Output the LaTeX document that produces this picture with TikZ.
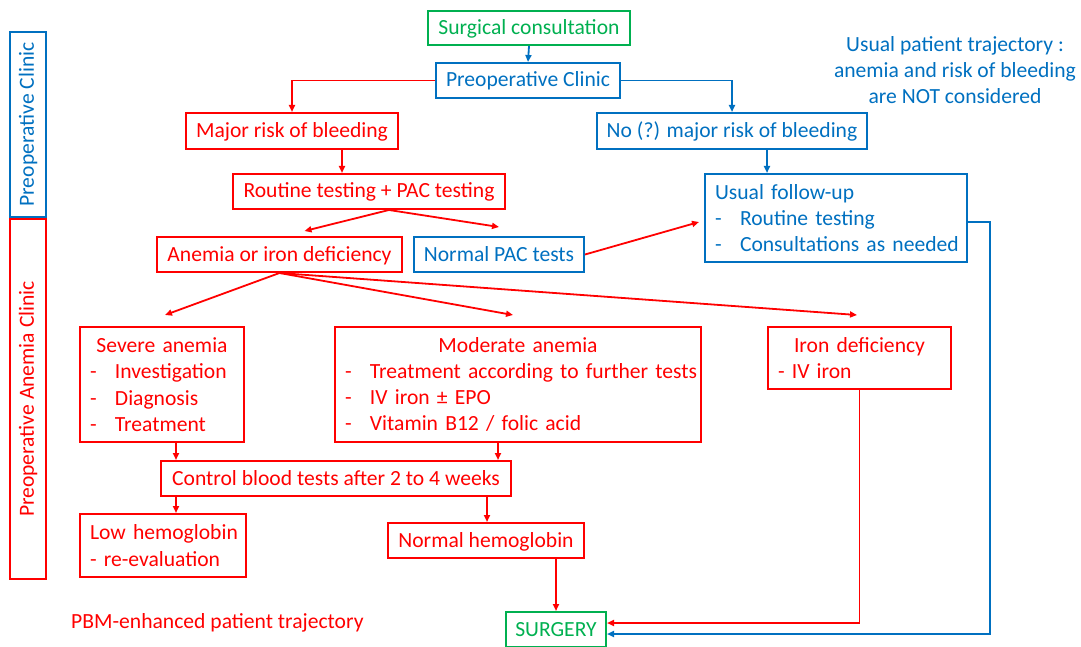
\documentclass[tikz,border=0pt]{standalone}
\usepackage{fontspec}
\setmainfont{Carlito}
\usetikzlibrary{arrows.meta}
\definecolor{pbmred}{RGB}{255,0,0}
\definecolor{usualblue}{RGB}{0,112,192}
\definecolor{surggreen}{RGB}{0,176,80}
\newcommand{\dashitem}[1]{\mbox{\makebox[25pt][l]{-}#1}}

\begin{document}
\begin{tikzpicture}[x=1pt, y=-1pt,
  every node/.style={font=\fontsize{21.6}{26.3}\selectfont},
  box/.style={draw, line width=2pt, inner sep=0pt},
  onel/.style={text height=17pt, text depth=4pt},
  rbox/.style={box, draw=pbmred, text=pbmred},
  bbox/.style={box, draw=usualblue, text=usualblue},
  gbox/.style={box, draw=surggreen, text=surggreen},
  list/.style={align=left, inner xsep=10pt},
  rarr/.style={pbmred, line width=1.8pt, -{Triangle[length=7pt,width=6pt]}},
  barr/.style={usualblue, line width=1.8pt, -{Triangle[length=7pt,width=6pt]}}]
  \useasboundingbox (0,0) rectangle (1081,647);

  \node[bbox, rotate=90, minimum width=185pt, minimum height=36pt] (clinicbar) at (28,124.5) {Preoperative Clinic};
  \node[rbox, rotate=90, minimum width=360pt, minimum height=36pt] (anemiabar) at (28,399) {Preoperative Anemia Clinic};

  \node[gbox, onel, minimum width=202pt, minimum height=34pt] (surg) at (529,28) {Surgical consultation};
  \node[bbox, onel, minimum width=184pt, minimum height=35pt] (preop) at (528,80.5) {Preoperative Clinic};
  \node[rbox, onel, minimum width=212pt, minimum height=36pt] (major) at (292,131) {Major risk of bleeding};
  \node[bbox, onel, minimum width=270pt, minimum height=36pt] (norisk) at (732,131) {No (?) major risk of bleeding};
  \node[rbox, onel, minimum width=272pt, minimum height=35pt] (routine) at (369,191.5) {Routine testing + PAC testing};
  \node[bbox, list, text width=242pt, minimum height=88pt] (usual) at (836,218) {\mbox{Usual follow-up}\\\dashitem{Routine testing}\\\dashitem{Consultations as needed}};
  \node[rbox, onel, minimum width=245pt, minimum height=35pt] (anemia) at (279.5,254.5) {Anemia or iron deficiency};
  \node[bbox, onel, minimum width=170pt, minimum height=35pt] (normalpac) at (499,254.5) {Normal PAC tests};
  \node[rbox, list, text width=144pt, minimum height=115pt] (severe) at (162,384.5) {\makebox[144pt]{Severe anemia}\\\dashitem{Investigation}\\\dashitem{Diagnosis}\\\dashitem{Treatment}};
  \node[rbox, list, text width=346pt, minimum height=115pt] (moderate) at (518,384.5) {\makebox[346pt]{Moderate anemia}\\\dashitem{Treatment according to further tests}\\\dashitem{IV iron ± EPO}\\\dashitem{Vitamin B12 / folic acid}};
  \node[rbox, list, text width=163pt, minimum height=62pt] (iron) at (859.5,358) {\makebox[163pt]{Iron deficiency}\\\mbox{- IV iron}};
  \node[rbox, onel, minimum width=350pt, minimum height=35pt] (control) at (336,478.5) {Control blood tests after 2 to 4 weeks};
  \node[rbox, list, text width=146pt, minimum height=63pt] (low) at (163,545.5) {\mbox{Low hemoglobin}\\\mbox{- re-evaluation}};
  \node[rbox, onel, minimum width=196pt, minimum height=35pt] (normalhb) at (486,540.5) {Normal hemoglobin};
  \node[gbox, onel, minimum width=100pt, minimum height=35pt] (surgery) at (556,629.5) {SURGERY};

  \node[text=usualblue, align=center, inner sep=0pt] (usualnote) at (955,70) {Usual patient trajectory :\\anemia and risk of bleeding\\are NOT considered};
  \node[text=pbmred, anchor=west, inner sep=0pt] (pbmnote) at (71,623) {PBM-enhanced patient trajectory};

  \draw[barr] (surg.south) -- (preop.north);
  \draw[rarr] (preop.west) -| (major.north);
  \draw[barr] (preop.east) -| (norisk.north);
  \draw[rarr] ([xshift=50pt]major.south) -- ([xshift=-27pt]routine.north);
  \draw[barr] ([xshift=35pt]norisk.south) -- ([xshift=-69pt]usual.north);
  \draw[rarr] ([xshift=20pt]routine.south) -- ([xshift=25pt,yshift=5pt]anemia.north);
  \draw[rarr] ([xshift=20pt]routine.south) -- ([yshift=9pt]normalpac.north);
  \draw[rarr] (normalpac.east) -- ([xshift=-5pt,yshift=-4pt]usual.west);
  \draw[rarr] (anemia.south) -- ([xshift=3pt,yshift=11pt]severe.north);
  \draw[rarr] (anemia.south) -- ([xshift=-5pt,yshift=11pt]moderate.north);
  \draw[rarr] (anemia.south) -- ([xshift=-2.5pt,yshift=11pt]iron.north);
  \draw[rarr] ([xshift=14pt]severe.south) -- ([xshift=14pt]severe.south |- control.north);
  \draw[rarr] ([xshift=-20pt]moderate.south) -- ([xshift=-20pt]moderate.south |- control.north);
  \draw[rarr] ([xshift=-160pt]control.south) -- ([xshift=-160pt]control.south |- low.north);
  \draw[rarr] ([xshift=151pt]control.south) -- ([xshift=151pt]control.south |- normalhb.north);
  \draw[rarr] ([xshift=70pt]normalhb.south) -- (surgery.north);
  \draw[rarr] (iron.south) |- ([yshift=6.5pt]surgery.east);
  \coordinate (bend) at (990,222);
  \draw[barr] ([yshift=-4pt]usual.east) -- (bend) |- ([yshift=-4.5pt]surgery.east);
\end{tikzpicture}
\end{document}
